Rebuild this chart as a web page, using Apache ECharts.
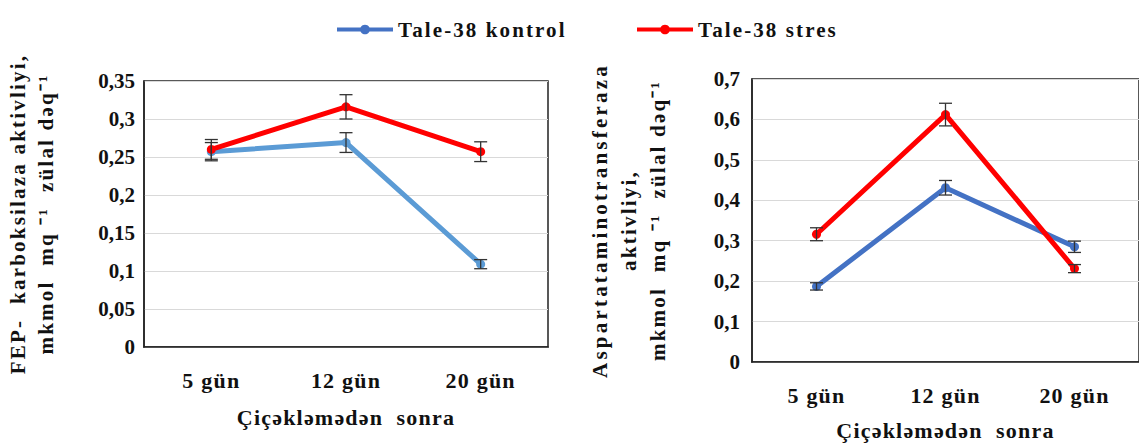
<!DOCTYPE html>
<html>
<head>
<meta charset="utf-8">
<script src="https://cdn.jsdelivr.net/npm/echarts@6/dist/echarts.min.js"></script>
<style>
  html, body { margin: 0; padding: 0; background: #fff; }
  #chart { width: 1139px; height: 446px; }
</style>
</head>
<body>
<div id="chart"></div>
<script>
// Sampling days after flowering
const categories = ['5 gün', '12 gün', '20 gün'];
const seriesNames = ['Tale-38 kontrol', 'Tale-38 stres'];

// FEP-karboksilaza activity (left panel)
const fepKontrol = [0.257, 0.269, 0.109];
const fepKontrolErr = [0.012, 0.013, 0.006];
const fepStres = [0.260, 0.316, 0.257];
const fepStresErr = [0.013, 0.016, 0.013];

// Aspartataminotransferaza activity (right panel)
const astKontrol = [0.187, 0.431, 0.285];
const astKontrolErr = [0.009, 0.018, 0.014];
const astStres = [0.316, 0.612, 0.231];
const astStresErr = [0.016, 0.028, 0.010];

// Value-axis tick labels (comma decimals)
const fepTicks = ['0', '0,05', '0,1', '0,15', '0,2', '0,25', '0,3', '0,35'];
const astTicks = ['0', '0,1', '0,2', '0,3', '0,4', '0,5', '0,6', '0,7'];

// Axis titles
const xTitle = 'Çiçəkləmədən  sonra';
const fepTitle = 'FEP-  karboksilaza aktivliyi,\nmkmol  mq ⁻¹  zülal dəq⁻¹';
const astTitle = 'Aspartataminotransferaza\naktivliyi,\nmkmol  mq ⁻¹  zülal dəq⁻¹';

const FONT = 'Liberation Serif';
const INK = '#111';
const RED = '#FF0000';
const BLUE_LIGHT = '#5B9BD5';
const BLUE = '#4472C4';

function lineSeries(name, values, color, axisIndex) {
  return {
    name: name,
    type: 'line',
    xAxisIndex: axisIndex,
    yAxisIndex: axisIndex,
    data: values,
    symbol: 'circle',
    symbolSize: 9,
    lineStyle: { color: color, width: 5 },
    itemStyle: { color: color },
    z: 3
  };
}

function errorSeries(values, errs, axisIndex) {
  return {
    type: 'custom',
    xAxisIndex: axisIndex,
    yAxisIndex: axisIndex,
    silent: true,
    z: 4,
    encode: { x: 0, y: [1, 2] },
    data: values.map((v, i) => [i, v - errs[i], v + errs[i]]),
    renderItem: function (params, api) {
      const lo = api.coord([api.value(0), api.value(1)]);
      const hi = api.coord([api.value(0), api.value(2)]);
      const w = 6.5;
      const style = { stroke: '#333', lineWidth: 1.3, fill: null };
      return {
        type: 'group',
        children: [
          { type: 'line', shape: { x1: hi[0], y1: hi[1], x2: lo[0], y2: lo[1] }, style: style },
          { type: 'line', shape: { x1: hi[0] - w, y1: hi[1], x2: hi[0] + w, y2: hi[1] }, style: style },
          { type: 'line', shape: { x1: lo[0] - w, y1: lo[1], x2: lo[0] + w, y2: lo[1] }, style: style }
        ]
      };
    }
  };
}

function categoryAxis(gridIndex, margin, nameGap) {
  return {
    type: 'category',
    gridIndex: gridIndex,
    data: categories,
    boundaryGap: true,
    axisTick: { show: false },
    axisLine: { lineStyle: { color: '#222', width: 1.5 } },
    axisLabel: { margin: margin, fontFamily: FONT, fontWeight: 'bold', fontSize: 22, color: INK },
    name: xTitle,
    nameLocation: 'middle',
    nameGap: nameGap,
    nameTextStyle: { fontFamily: FONT, fontWeight: 'bold', fontSize: 22, color: INK }
  };
}

function valueAxis(gridIndex, max, interval, ticks, title, nameGap, lineHeight, margin) {
  return {
    type: 'value',
    gridIndex: gridIndex,
    min: 0,
    max: max,
    interval: interval,
    axisLine: { show: true, lineStyle: { color: '#222', width: 1.5 } },
    axisTick: { show: false },
    splitLine: { lineStyle: { color: '#D9D9D9', width: 1.2 } },
    axisLabel: {
      margin: margin,
      fontFamily: FONT, fontWeight: 'bold', fontSize: 21, color: INK,
      formatter: v => ticks[Math.round(v / interval)]
    },
    name: title,
    nameLocation: 'middle',
    nameRotate: 90,
    nameGap: nameGap,
    nameTextStyle: { fontFamily: FONT, fontWeight: 'bold', fontSize: 21, lineHeight: lineHeight, color: INK }
  };
}

const legendText = { fontFamily: FONT, fontWeight: 'bold', fontSize: 21, color: INK };

const option = {
  animation: false,
  backgroundColor: '#fff',
  textStyle: { fontFamily: FONT },
  legend: [
    {
      left: 330, top: 14, itemWidth: 56, itemHeight: 12, selectedMode: false,
      textStyle: legendText,
      data: [{ name: seriesNames[0], itemStyle: { color: BLUE }, lineStyle: { color: BLUE, width: 4 } }]
    },
    {
      left: 630, top: 14, itemWidth: 56, itemHeight: 12, selectedMode: false,
      textStyle: legendText,
      data: [{ name: seriesNames[1], itemStyle: { color: RED }, lineStyle: { color: RED, width: 4 } }]
    }
  ],
  grid: [
    { left: 144, top: 81, width: 404, height: 266, show: true, borderColor: '#222', borderWidth: 1.5, containLabel: false },
    { left: 752, top: 79, width: 396, height: 286, show: true, borderColor: '#222', borderWidth: 1.5, containLabel: false }
  ],
  xAxis: [
    categoryAxis(0, 22, 59),
    categoryAxis(1, 22, 57)
  ],
  yAxis: [
    valueAxis(0, 0.35, 0.05, fepTicks, fepTitle, 84, 28, 9),
    valueAxis(1, 0.7, 0.1, astTicks, astTitle, 80, 29, 12)
  ],
  series: [
    lineSeries(seriesNames[0], astKontrol, BLUE, 1),
    lineSeries(seriesNames[0], fepKontrol, BLUE_LIGHT, 0),
    lineSeries(seriesNames[1], fepStres, RED, 0),
    lineSeries(seriesNames[1], astStres, RED, 1),
    errorSeries(fepKontrol, fepKontrolErr, 0),
    errorSeries(fepStres, fepStresErr, 0),
    errorSeries(astKontrol, astKontrolErr, 1),
    errorSeries(astStres, astStresErr, 1)
  ]
};

const dom = document.getElementById('chart');
const chart = echarts.init(dom, null, { renderer: 'svg' });
chart.setOption(option);

// Widen the letter spacing of word labels (numeric tick labels stay tight)
const letterSpacing = {
  'Tale-38 kontrol': 2.1,
  'Tale-38 stres': 2.1,
  'Aspartataminotransferaza': 3.2,
  'aktivliyi,': 2.2
};
function spaceLetters() {
  dom.querySelectorAll('text').forEach(t => {
    const s = t.textContent || '';
    if (/^[0-9,]+$/.test(s)) return;
    let ls = letterSpacing[s];
    if (ls === undefined) ls = s.length > 20 ? 2.2 : 1.2;
    t.setAttribute('letter-spacing', ls);
  });
}
spaceLetters();
chart.on('finished', spaceLetters);
</script>
</body>
</html>
